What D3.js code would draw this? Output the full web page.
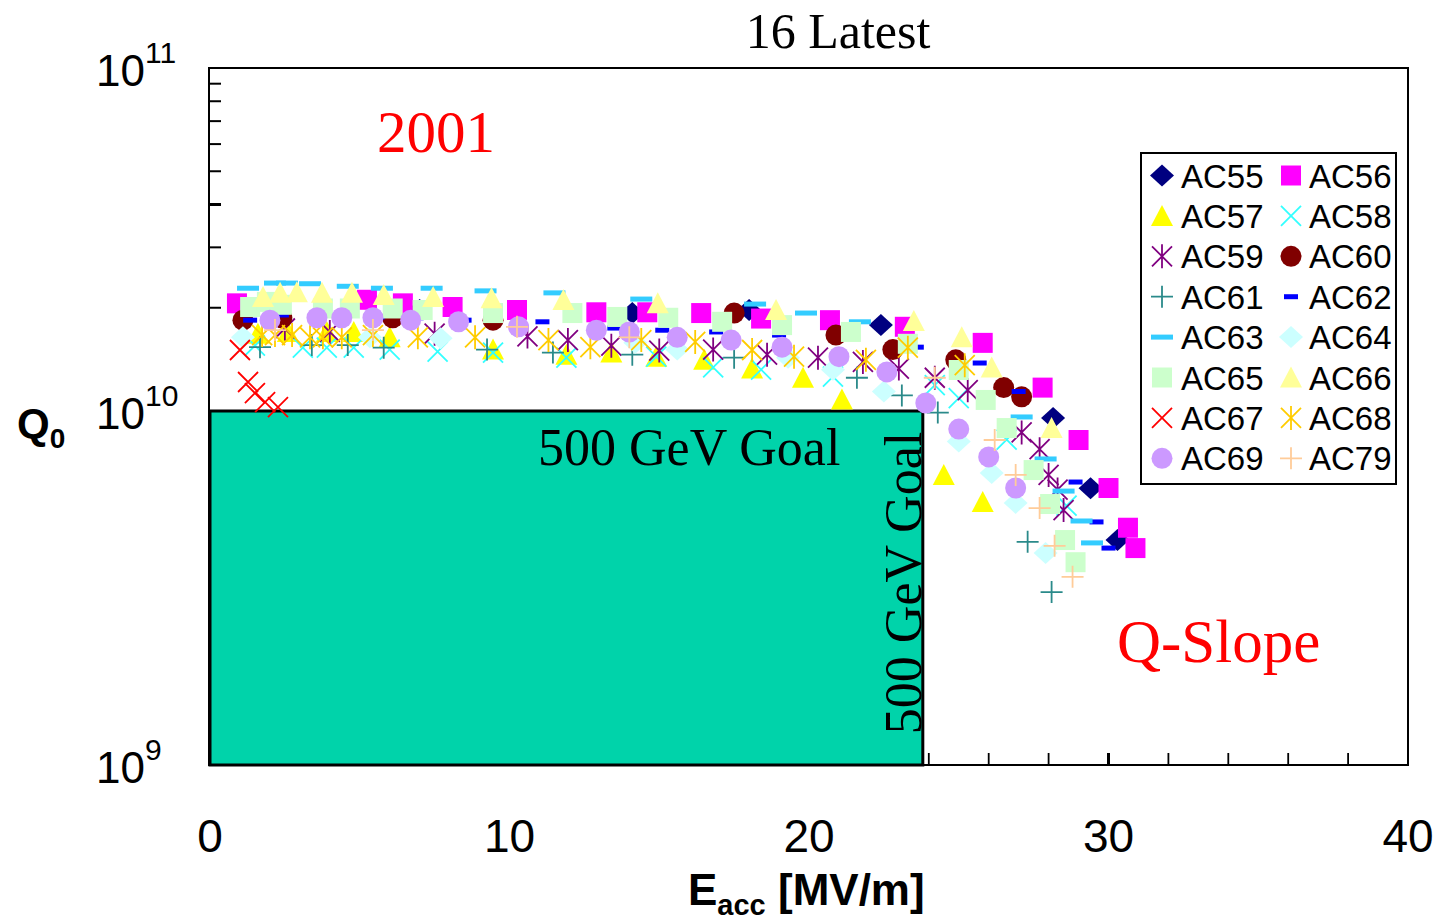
<!DOCTYPE html>
<html>
<head>
<meta charset="utf-8">
<script src="https://cdn.jsdelivr.net/npm/d3@7"></script>
<style>
  html, body { margin: 0; padding: 0; background: #fff; }
  svg { display: block; }
</style>
</head>
<body>
<svg id="chart" width="1439" height="924"></svg>
<script>
// Q0 values are given in units of 1e10; Eacc in MV/m.
const ac55 = [[7.0,1.97],[14.1,1.93],[18.0,1.97],[22.4,1.78],[28.15,0.955],[29.4,0.605],[30.3,0.432]];
const ac56 = [[0.9,2.06],[5.24,2.11],[6.44,2.06],[8.1,2.01],[10.25,1.97],[12.9,1.94],[14.6,1.94],[16.4,1.93],[18.4,1.86],[20.7,1.84],[23.2,1.76],[25.8,1.58],[27.8,1.17],[29.0,0.828],[30.0,0.606],[30.65,0.468],[30.9,0.41]];
const ac57 = [[1.6,1.68],[2.6,1.70],[3.9,1.70],[4.8,1.70],[6.0,1.64],[9.45,1.51],[11.9,1.46],[13.4,1.48],[14.9,1.44],[16.5,1.41],[18.1,1.33],[19.8,1.25],[21.1,1.08],[24.5,0.66],[25.8,0.553]];
const ac58 = [[1.5,1.55],[3.1,1.53],[3.9,1.53],[4.8,1.53],[6.0,1.51],[7.6,1.49],[9.45,1.48],[11.9,1.43],[14.9,1.44],[16.8,1.34],[18.4,1.32],[20.8,1.26],[24.2,1.19],[25.0,1.09],[26.6,0.83],[28.6,0.54]];
const ac59 = [[2.5,1.74],[4.0,1.70],[7.5,1.68],[10.6,1.65],[11.95,1.61],[13.4,1.55],[15.0,1.50],[16.8,1.51],[18.6,1.46],[20.3,1.43],[21.8,1.39],[23.0,1.33],[24.2,1.25],[25.3,1.15],[27.1,0.87],[27.7,0.78],[28.0,0.66],[28.3,0.60],[28.5,0.525]];
const ac60 = [[1.1,1.84],[2.4,1.87],[6.1,1.87],[9.45,1.84],[17.5,1.93],[20.9,1.665],[22.8,1.51],[24.9,1.41],[26.5,1.17],[27.1,1.10]];
const ac61 = [[1.67,1.535],[3.4,1.557],[4.6,1.557],[5.8,1.53],[9.25,1.51],[11.45,1.48],[14.1,1.46],[17.5,1.43],[21.6,1.25],[23.1,1.11],[24.3,0.99],[27.3,0.427],[28.1,0.308]];
const ac62 = [[1.34,1.84],[2.4,1.905],[4.4,1.905],[5.6,1.88],[6.9,1.87],[8.5,1.84],[11.1,1.82],[13.5,1.745],[15.1,1.72],[16.9,1.70],[19.0,1.665],[23.6,1.535],[25.7,1.38],[27.0,1.14],[28.9,0.63],[29.6,0.486],[30.0,0.41]];
const ac63 = [[1.27,2.28],[2.17,2.36],[2.57,2.36],[3.34,2.35],[4.6,2.31],[5.74,2.28],[7.4,2.28],[9.2,2.24],[11.5,2.21],[14.4,2.12],[18.2,2.05],[19.9,1.93],[21.7,1.82],[27.1,0.962],[27.9,0.732],[28.5,0.594],[29.1,0.489],[29.45,0.424]];
const ac64 = [[1.1,1.64],[5.34,1.64],[7.7,1.63],[14.2,1.58],[15.6,1.51],[19.3,1.43],[20.8,1.32],[22.5,1.14],[25.0,0.82],[26.1,0.668],[26.9,0.55],[27.9,0.397]];
const ac65 = [[1.34,2.01],[1.9,2.08],[2.4,2.04],[3.77,1.99],[4.67,1.99],[6.1,1.99],[7.1,1.97],[9.45,1.93],[12.1,1.93],[13.6,1.88],[15.3,1.87],[17.1,1.82],[19.1,1.78],[21.4,1.70],[23.3,1.57],[25.0,1.317],[25.9,1.077],[26.6,0.895],[27.5,0.681],[28.05,0.546],[28.55,0.432],[28.9,0.374]];
const ac66 = [[1.77,2.15],[2.34,2.21],[2.9,2.22],[3.74,2.21],[4.74,2.21],[5.8,2.18],[7.45,2.15],[9.4,2.13],[11.8,2.107],[14.95,2.06],[18.9,1.97],[23.5,1.83],[25.1,1.64],[26.1,1.34],[28.1,0.895]];
const ac67 = [[1.0,1.506],[1.27,1.215],[1.5,1.128],[1.84,1.062],[2.27,1.027]];
const ac68 = [[1.74,1.665],[2.17,1.665],[2.74,1.665],[3.34,1.64],[3.77,1.64],[4.4,1.64],[5.44,1.665],[6.94,1.64],[8.85,1.64],[11.3,1.61],[12.7,1.535],[14.4,1.61],[16.2,1.59],[18.1,1.506],[19.5,1.44],[21.9,1.41],[23.3,1.53],[25.2,1.36]];
const ac69 = [[2.0,1.84],[3.57,1.87],[4.4,1.87],[5.44,1.87],[6.7,1.84],[8.3,1.82],[10.3,1.76],[12.9,1.72],[14.0,1.70],[15.6,1.64],[17.4,1.61],[19.1,1.535],[21.0,1.44],[22.6,1.30],[23.9,1.055],[25.0,0.889],[26.0,0.742],[26.9,0.606]];
const ac79 = [[2.17,1.722],[5.44,1.722],[10.25,1.76],[14.0,1.64],[24.2,1.25],[26.2,0.828],[26.9,0.66],[27.7,0.532],[28.2,0.416],[28.8,0.34]];

const seriesNames = ["AC55","AC56","AC57","AC58","AC59","AC60","AC61","AC62",
                     "AC63","AC64","AC65","AC66","AC67","AC68","AC69","AC79"];
const seriesData = [ac55,ac56,ac57,ac58,ac59,ac60,ac61,ac62,ac63,ac64,ac65,ac66,ac67,ac68,ac69,ac79];
const seriesColors = ["#000080","#ff00ff","#ffff00","#33ffff","#800080","#800000","#2a8a8a","#0000ff",
                      "#33ccff","#ccffff","#ccffcc","#ffff99","#ff0000","#ffcc00","#cc99ff","#ffcc99"];
const seriesShapes = ["diamond","square","triangle","x","asterisk","circle","plus","dashShort",
                      "dash","diamond","square","triangle","x","asterisk","circle","plus"];

const xTicks = [0,10,20,30,40];
const yTickExps = [9,10,11];
const goalE = 23.8;   // MV/m
const goalQ = 1;      // 1e10

const svg = d3.select("#chart");
const x = d3.scaleLinear().domain([0,40]).range([210,1408]);
const y = d3.scaleLog().domain([0.1,1,10]).range([765,411,68]);

const SANS = "'Liberation Sans', Arial, sans-serif";
const SERIF = "'Liberation Serif', 'Times New Roman', serif";

// marker path builders (centred at origin)
function shapePath(kind) {
  switch (kind) {
    case "diamond": return "M0,-11L12,0L0,11L-12,0Z";
    case "square": return "M-10,-10H10V10H-10Z";
    case "triangle": return "M0,-11L11,10L-11,10Z";
    case "circle": return d3.symbol(d3.symbolCircle, Math.PI*10.5*10.5)();
    case "x": return "M-10,-10L10,10M-10,10L10,-10";
    case "plus": return "M-11,0H11M0,-11V11";
    case "asterisk": return "M-10,-10L10,10M-10,10L10,-10M0,-12V12";
    case "dash": return "M-11,-2.5H11V2.5H-11Z";
    case "dashShort": return "M-7,-2.5H7V2.5H-7Z";
  }
}
const stroked = k => k === "x" || k === "plus" || k === "asterisk";

function drawMarker(g, kind, color) {
  const p = g.append("path").attr("d", shapePath(kind));
  if (stroked(kind)) p.attr("fill","none").attr("stroke",color).attr("stroke-width",1.8);
  else p.attr("fill",color).attr("stroke","none");
}

// minor/major ticks (inside the frame)
const tickG = svg.append("g").attr("stroke","#000");
[0.1,1].forEach(base => {
  for (let m = 2; m <= 9; m++) {
    const v = base*m;
    tickG.append("line").attr("x1",x(0)).attr("x2",x(0)+11)
      .attr("y1",y(v)).attr("y2",y(v)).attr("stroke-width", m===4 ? 3 : 2);
  }
});
for (let e = 2; e < 40; e += 2) {
  tickG.append("line").attr("x1",x(e)).attr("x2",x(e))
    .attr("y1",y(0.1)).attr("y2",y(0.1)-12).attr("stroke-width", e%10===0 ? 3 : 1.8);
}

// plot frame
svg.append("rect").attr("x",x(0)-1).attr("y",y(10)).attr("width",x(40)-x(0)+1).attr("height",y(0.1)-y(10))
  .attr("fill","none").attr("stroke","#000").attr("stroke-width",2);

// 500 GeV goal region
svg.append("rect").attr("x",x(0)).attr("y",y(goalQ)).attr("width",x(goalE)-x(0)).attr("height",y(0.1)-y(goalQ))
  .attr("fill","#00d3aa").attr("stroke","#000").attr("stroke-width",3);

// data markers
seriesData.forEach((data, i) => {
  const g = svg.append("g");
  data.forEach(([e,q]) => {
    const m = g.append("g").attr("transform",`translate(${x(e)},${y(q)})`);
    drawMarker(m, seriesShapes[i], seriesColors[i]);
  });
});

// goal labels
svg.append("text").attr("x",538).attr("y",465).attr("font-family",SERIF).attr("font-size",52)
  .text("500 GeV Goal");
svg.append("text").attr("transform",`translate(921,${(y(goalQ)+y(0.1))/2-5}) rotate(-90)`)
  .attr("text-anchor","middle").attr("font-family",SERIF).attr("font-size",52).text("500 GeV Goal");

// annotations
svg.append("text").attr("x",838).attr("y",48).attr("text-anchor","middle")
  .attr("font-family",SERIF).attr("font-size",50).text("16 Latest");
svg.append("text").attr("x",377).attr("y",152).attr("font-family",SERIF).attr("font-size",59)
  .attr("fill","#ff0000").text("2001");
svg.append("text").attr("x",1117).attr("y",662).attr("font-family",SERIF).attr("font-size",61)
  .attr("fill","#ff0000").text("Q-Slope");

// x tick labels
xTicks.forEach(v => {
  svg.append("text").attr("x",x(v)).attr("y",852).attr("text-anchor","middle")
    .attr("font-family",SANS).attr("font-size",46).text(v);
});

// y tick labels (powers of ten)
yTickExps.forEach(p => {
  const t = svg.append("text").attr("x",96).attr("y",y(Math.pow(10,p-10))+18)
    .attr("font-family",SANS).attr("font-size",44);
  t.append("tspan").text("10");
  t.append("tspan").attr("dy",-23).attr("font-size",30).text(p);
});

// axis titles
const yt = svg.append("text").attr("x",17).attr("y",438).attr("font-family",SANS)
  .attr("font-weight","bold").attr("font-size",42);
yt.append("tspan").text("Q");
yt.append("tspan").attr("dy",10).attr("font-size",28).text("0");

const xt = svg.append("text").attr("x",688).attr("y",905).attr("font-family",SANS)
  .attr("font-weight","bold").attr("font-size",44);
xt.append("tspan").text("E");
xt.append("tspan").attr("dy",10).attr("font-size",29).text("acc");
xt.append("tspan").attr("dy",-10).text(" [MV/m]");

// legend
const lg = svg.append("g");
lg.append("rect").attr("x",1141).attr("y",153).attr("width",255).attr("height",331)
  .attr("fill","#fff").attr("stroke","#000").attr("stroke-width",2);
seriesNames.forEach((name, i) => {
  const col = i % 2, row = Math.floor(i / 2);
  const cy = 175.5 + row*40.4;
  const mx = col === 0 ? 1162 : 1291;
  const tx = col === 0 ? 1181 : 1309;
  const m = lg.append("g").attr("transform",`translate(${mx},${cy})`);
  drawMarker(m, seriesShapes[i], seriesColors[i]);
  lg.append("text").attr("x",tx).attr("y",cy+12).attr("font-family",SANS).attr("font-size",33).text(name);
});
</script>
</body>
</html>
